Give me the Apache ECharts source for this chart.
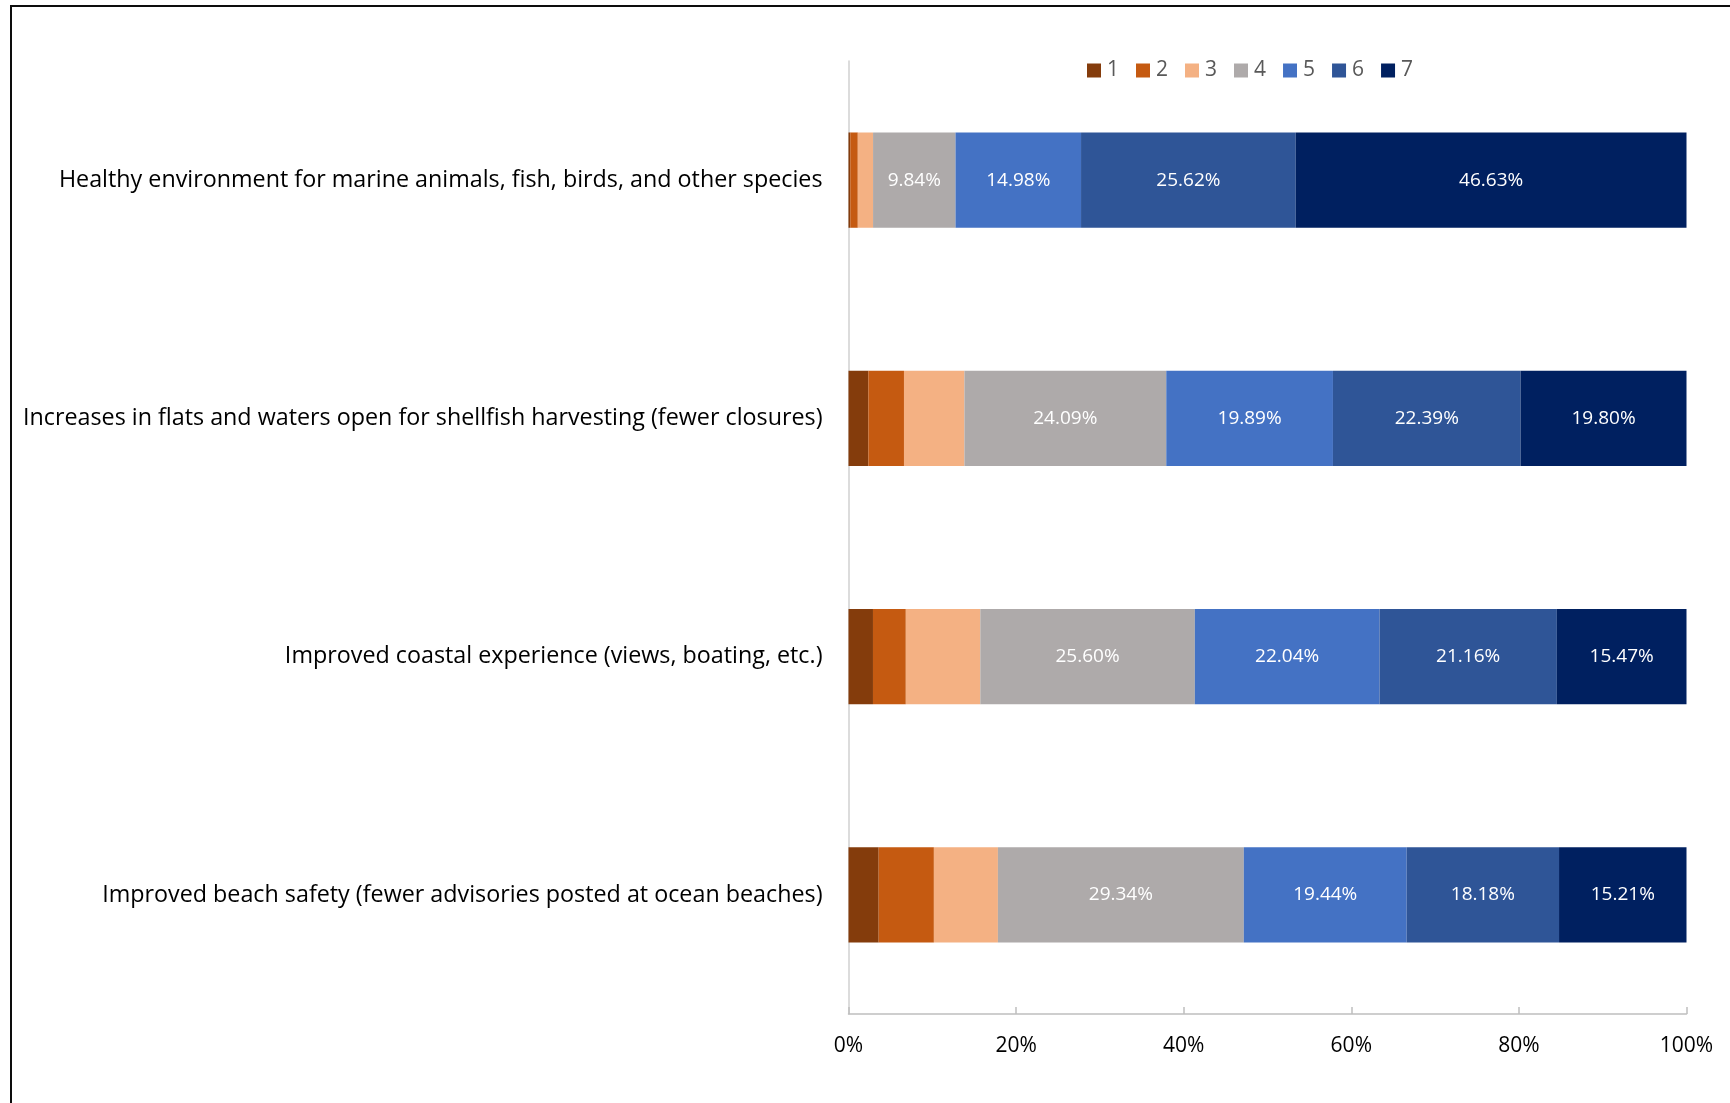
<!DOCTYPE html>
<html>
<head>
<meta charset="utf-8">
<script src="https://cdn.jsdelivr.net/npm/echarts@6/dist/echarts.min.js"></script>
<style>
  html, body { margin: 0; padding: 0; background: #ffffff; }
  #chart { width: 1730px; height: 1103px; }
</style>
</head>
<body>
<div id="chart"></div>
<script>
// Survey items (top to bottom)
const categories = [
  'Healthy environment for marine animals, fish, birds, and other species',
  'Increases in flats and waters open for shellfish harvesting (fewer closures)',
  'Improved coastal experience (views, boating, etc.)',
  'Improved beach safety (fewer advisories posted at ocean beaches)'
];

// Rating levels 1..7, share of responses (%) per item
const rating1 = [0.21, 2.37, 2.92, 3.60];
const rating2 = [0.90, 4.25, 3.92, 6.59];
const rating3 = [1.82, 7.21, 8.89, 7.64];
const rating4 = [9.84, 24.09, 25.60, 29.34];
const rating5 = [14.98, 19.89, 22.04, 19.44];
const rating6 = [25.62, 22.39, 21.16, 18.18];
const rating7 = [46.63, 19.80, 15.47, 15.21];

const seriesNames = ['1', '2', '3', '4', '5', '6', '7'];
const seriesData = [rating1, rating2, rating3, rating4, rating5, rating6, rating7];
const colors = ['#843C0C', '#C55A11', '#F4B183', '#AEAAAA', '#4472C4', '#2F5597', '#002060'];
const labelled = [false, false, false, true, true, true, true];

const FONT = '"Open Sans", "Noto Sans", sans-serif';

const chart = echarts.init(document.getElementById('chart'), null, { renderer: 'canvas' });

const series = seriesNames.map((name, i) => ({
  name: name,
  type: 'bar',
  stack: 'total',
  barWidth: '40%',
  data: seriesData[i],
  itemStyle: { color: colors[i] },
  label: {
    show: labelled[i],
    position: 'inside',
    color: '#ffffff',
    fontFamily: FONT,
    fontSize: 19,
    formatter: p => p.value.toFixed(2) + '%'
  },
  emphasis: { disabled: true }
}));

chart.setOption({
  animation: false,
  backgroundColor: '#ffffff',
  color: colors,
  graphic: [{
    type: 'rect',
    shape: { x: 11, y: 6, width: 1800, height: 1200 },
    style: { fill: 'none', stroke: '#0d0d0d', lineWidth: 2 },
    silent: true,
    z: 100
  }],
  legend: {
    data: seriesNames,
    left: 1087,
    top: 60,
    padding: 0,
    itemWidth: 14,
    itemHeight: 14,
    itemGap: 17,
    icon: 'rect',
    textStyle: { color: '#595959', fontFamily: FONT, fontSize: 21, padding: [0, 0, 0, 1] }
  },
  grid: { left: 848.5, right: 43.5, top: 61, bottom: 89, containLabel: false },
  xAxis: {
    type: 'value',
    min: 0,
    max: 100,
    interval: 20,
    axisLine: { show: true, lineStyle: { color: '#bfbfbf', width: 1.5 } },
    axisTick: { show: true, inside: true, length: 7, lineStyle: { color: '#bfbfbf', width: 1.5 } },
    splitLine: { show: false },
    axisLabel: {
      formatter: '{value}%',
      color: '#000000',
      fontFamily: FONT,
      fontSize: 21,
      margin: 22
    }
  },
  yAxis: {
    type: 'category',
    data: categories,
    inverse: true,
    axisLine: { show: true, lineStyle: { color: '#d0d0d0', width: 1.5 } },
    axisTick: { show: false },
    axisLabel: {
      color: '#000000',
      fontFamily: FONT,
      fontSize: 23.3,
      margin: 26
    }
  },
  series: series
});
</script>
</body>
</html>
